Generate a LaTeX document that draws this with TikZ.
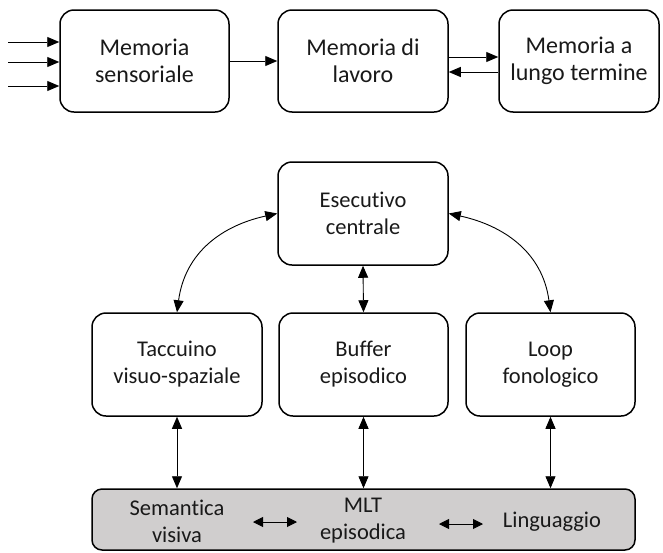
\documentclass[tikz,border=0pt]{standalone}
\usepackage{fontspec}
\setmainfont{Carlito}[Ligatures=NoCommon]
\usetikzlibrary{arrows.meta}
\definecolor{grayfill}{RGB}{208,206,206}
\definecolor{txt}{RGB}{25,25,25}
\begin{document}
\begin{tikzpicture}[x=1pt,y=-1pt,
  box/.style={draw, line width=1.5pt, rounded corners=14pt, align=center, inner sep=0pt,
    text=txt, font=\fontsize{22.5}{27}\selectfont, minimum width=170pt, minimum height=103pt},
  topbox/.style={box, font=\fontsize{24}{27.5}\selectfont, minimum height=102pt},
  lbl/.style={align=center, inner sep=0pt, text=txt, font=\fontsize{22.5}{27}\selectfont},
  tip/.tip={Triangle[length=12pt,width=10pt]},
  arr/.style={line width=0.9pt, -tip},
  darr/.style={line width=0.9pt, tip-tip},
  sarr/.style={line width=0.9pt, {Triangle[length=10pt,width=10pt]}-{Triangle[length=10pt,width=10pt]}}]
\useasboundingbox (0,0) rectangle (663,552);

% top row
\node[topbox, minimum width=169pt] (sens) at (144.5,61) {Memoria\\sensoriale};
\node[topbox] (lav) at (363,61) {Memoria di\\lavoro};
\node[topbox, minimum width=160pt] (lung) at (579,61) {Memoria a\\lungo termine};

\coordinate (i1) at (8,42);
\coordinate (i2) at (8,62);
\coordinate (i3) at (8,86);
\draw[arr] (i1) -- (sens.west |- i1);
\draw[arr] (i2) -- (sens.west |- i2);
\draw[arr] (i3) -- (sens.west |- i3);
\draw[arr] (sens) -- (lav);
\draw[arr] (lav.east |- 0,57) -- (lung.west |- 0,57);
\draw[arr] (lung.west |- 0,72) -- (lav.east |- 0,72);

% Baddeley model
\node[box] (esec) at (363,213.5) {Esecutivo\\centrale};
\node[box] (tacc) at (177,364.5) {Taccuino\\visuo-spaziale};
\node[box, minimum width=169pt] (buf) at (363.5,364.5) {Buffer\\episodico};
\node[box, minimum width=169pt] (loop) at (550.5,364.5) {Loop\\fonologico};

\node[box, fill=grayfill, rounded corners=10pt, minimum width=543pt, minimum height=61pt] (mlt) at (363.5,519.5) {};
\node[lbl] (sem) at (177,521) {Semantica\\visiva};
\node[lbl] (epi) at (363,521) {MLT\\episodica};
\node[lbl] (ling) at (552,522) {Linguaggio};

\draw[darr] (esec.west) .. controls +(-55,12) and +(8,-60) .. (tacc.north);
\draw[darr] (esec.east) .. controls +(55,12) and +(-8,-60) .. (loop.north);
\draw[darr] (esec.south) -- (buf.north);

\draw[darr] (tacc.south) -- (tacc.south |- mlt.north);
\draw[darr] (buf.south) -- (buf.south |- mlt.north);
\draw[darr] (loop.south) -- (loop.south |- mlt.north);

\coordinate (s1) at (253,522);
\coordinate (s2) at (297,522);
\coordinate (s3) at (439,524);
\coordinate (s4) at (483,524);
\draw[sarr] (s1) -- (s2);
\draw[sarr] (s3) -- (s4);
\end{tikzpicture}
\end{document}
